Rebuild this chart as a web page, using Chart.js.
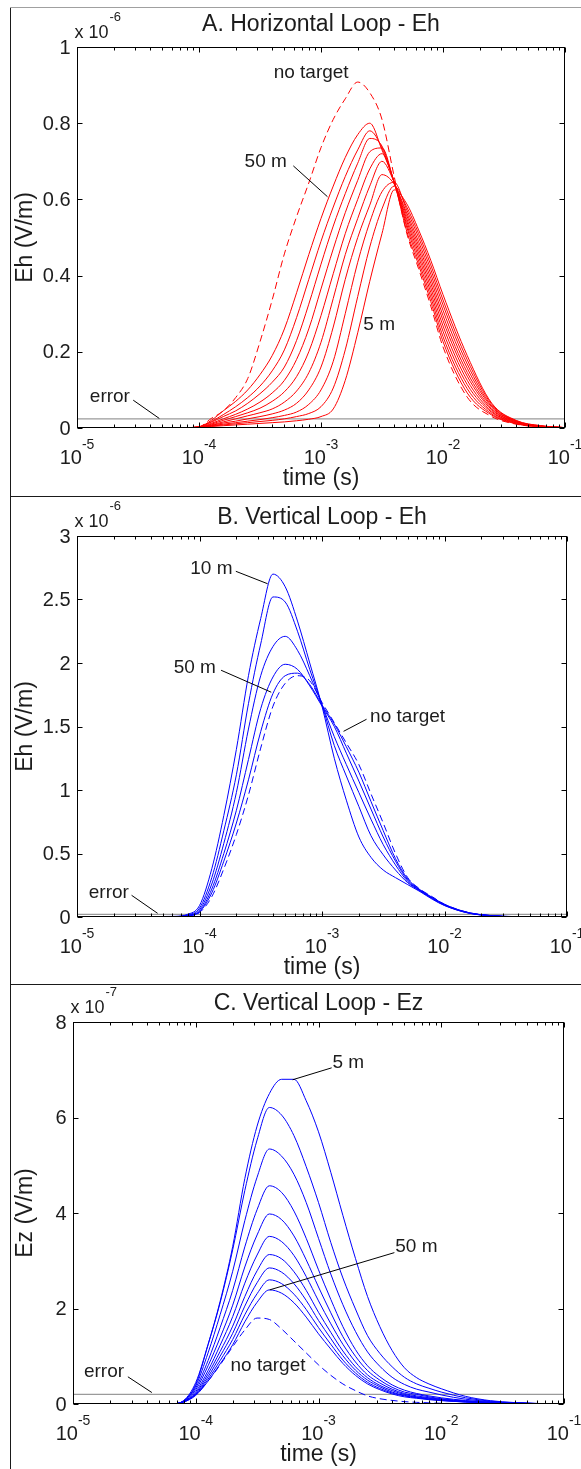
<!DOCTYPE html>
<html>
<head>
<meta charset="utf-8">
<title>Loop responses</title>
<script src="https://cdn.jsdelivr.net/npm/chart.js@4.4.1/dist/chart.umd.min.js"></script>
<style>
  html, body { margin: 0; padding: 0; background: #fff; }
  #fig { position: relative; width: 581px; height: 1469px; overflow: hidden; background: #fff; }
  #fig canvas { position: absolute; left: 0; }
  .rule { position: absolute; background: #1a1a1a; }
</style>
</head>
<body>
<div id="fig">
  <canvas id="panelA" width="581" height="496" style="top:0px"></canvas>
  <canvas id="panelB" width="581" height="488" style="top:496px"></canvas>
  <canvas id="panelC" width="581" height="485" style="top:984px"></canvas>
  <div class="rule" style="left:10px; top:7px; width:1px; height:1462px"></div>
  <div class="rule" style="left:10px; top:7px; width:571px; height:1px; background:#a0a0a0"></div>
  <div class="rule" style="left:10px; top:496px; width:571px; height:1px"></div>
  <div class="rule" style="left:10px; top:984px; width:571px; height:1px"></div>
</div>
<script>
// sample times (s), shared by every curve
const time = [1e-5, 6.31e-5, 7.94e-5, 1e-4, 1.26e-4, 1.58e-4, 2.0e-4, 2.51e-4, 3.16e-4, 3.98e-4,
  5.01e-4, 6.31e-4, 7.94e-4, 1e-3, 1.26e-3, 1.58e-3, 2.0e-3, 2.51e-3, 3.16e-3, 3.98e-3,
  5.01e-3, 6.31e-3, 7.94e-3, 1e-2, 1.58e-2, 2.51e-2, 3.98e-2, 6.31e-2, 1e-1];

// A. Horizontal loop - Eh  (x 1e-6 V/m)
const aNoTarget = [0, 0, 0.001, 0.003, 0.025, 0.045, 0.08, 0.13, 0.226, 0.336, 0.457, 0.555, 0.643, 0.736, 0.81, 0.864, 0.908, 0.88, 0.81, 0.66, 0.515, 0.418, 0.32, 0.213, 0.081, 0.03, 0.01, 0.003, 0];
const a50 = [0, 0, 0.001, 0.003, 0.02, 0.045, 0.07, 0.1, 0.14, 0.19, 0.26, 0.355, 0.455, 0.55, 0.635, 0.71, 0.77, 0.8, 0.73, 0.645, 0.52, 0.428, 0.332, 0.227, 0.092, 0.034, 0.011, 0.003, 0.001];
const a45 = [0, 0, 0.001, 0.003, 0.017, 0.035, 0.056, 0.08, 0.11, 0.15, 0.205, 0.29, 0.39, 0.49, 0.58, 0.66, 0.73, 0.78, 0.735, 0.645, 0.53, 0.438, 0.344, 0.24, 0.103, 0.037, 0.012, 0.003, 0.001];
const a40 = [0, 0, 0.001, 0.003, 0.015, 0.03, 0.045, 0.065, 0.09, 0.12, 0.16, 0.23, 0.325, 0.43, 0.53, 0.615, 0.695, 0.76, 0.74, 0.645, 0.537, 0.449, 0.356, 0.254, 0.114, 0.041, 0.013, 0.004, 0.001];
const a35 = [0, 0, 0.001, 0.002, 0.012, 0.024, 0.036, 0.05, 0.068, 0.092, 0.125, 0.18, 0.26, 0.365, 0.47, 0.565, 0.65, 0.725, 0.735, 0.645, 0.545, 0.459, 0.368, 0.268, 0.125, 0.044, 0.014, 0.004, 0.001];
const a30 = [0, 0, 0.001, 0.002, 0.01, 0.02, 0.03, 0.04, 0.052, 0.07, 0.095, 0.135, 0.2, 0.295, 0.405, 0.51, 0.6, 0.68, 0.72, 0.645, 0.552, 0.469, 0.38, 0.282, 0.136, 0.048, 0.015, 0.004, 0.001];
const a25 = [0, 0, 0.001, 0.002, 0.008, 0.016, 0.024, 0.032, 0.04, 0.05, 0.068, 0.097, 0.145, 0.225, 0.34, 0.455, 0.55, 0.635, 0.7, 0.645, 0.56, 0.479, 0.392, 0.295, 0.146, 0.051, 0.016, 0.005, 0.001];
const a20 = [0, 0, 0.001, 0.002, 0.007, 0.013, 0.018, 0.024, 0.03, 0.037, 0.047, 0.065, 0.1, 0.16, 0.265, 0.39, 0.5, 0.585, 0.665, 0.64, 0.567, 0.489, 0.404, 0.309, 0.157, 0.055, 0.017, 0.005, 0.001];
const a15 = [0, 0, 0.001, 0.002, 0.006, 0.01, 0.014, 0.018, 0.022, 0.027, 0.033, 0.042, 0.062, 0.1, 0.175, 0.3, 0.435, 0.54, 0.62, 0.645, 0.575, 0.5, 0.416, 0.323, 0.168, 0.058, 0.018, 0.005, 0.001];
const a10 = [0, 0, 0, 0.001, 0.005, 0.008, 0.011, 0.014, 0.017, 0.02, 0.024, 0.03, 0.038, 0.056, 0.105, 0.205, 0.345, 0.475, 0.575, 0.635, 0.582, 0.51, 0.428, 0.336, 0.179, 0.062, 0.019, 0.006, 0.001];
const a5 = [0, 0, 0, 0.001, 0.004, 0.006, 0.008, 0.01, 0.012, 0.014, 0.016, 0.019, 0.023, 0.03, 0.05, 0.125, 0.25, 0.385, 0.51, 0.625, 0.59, 0.52, 0.44, 0.35, 0.19, 0.065, 0.02, 0.006, 0.001];
const errA = 0.024;

// B. Vertical loop - Eh  (x 1e-6 V/m)
const bNoTarget = [0, 0.002, 0.008, 0.035, 0.16, 0.38, 0.65, 0.96, 1.33, 1.66, 1.84, 1.9, 1.86, 1.69, 1.53, 1.37, 1.2, 0.97, 0.74, 0.5, 0.31, 0.22, 0.16, 0.1, 0.035, 0.01, 0.003, 0, 0];
const b10 = [0, 0.005, 0.02, 0.09, 0.38, 0.8, 1.32, 1.9, 2.35, 2.7, 2.6, 2.33, 2.0, 1.66, 1.25, 0.92, 0.63, 0.47, 0.37, 0.31, 0.255, 0.2, 0.14, 0.09, 0.03, 0.008, 0.002, 0, 0];
const b20 = [0, 0.004, 0.016, 0.07, 0.31, 0.68, 1.12, 1.68, 2.15, 2.52, 2.48, 2.25, 1.95, 1.67, 1.35, 1.11, 0.87, 0.64, 0.49, 0.37, 0.27, 0.205, 0.145, 0.092, 0.031, 0.008, 0.002, 0, 0];
const b30 = [0, 0.003, 0.013, 0.055, 0.26, 0.58, 0.98, 1.48, 1.9, 2.13, 2.21, 2.1, 1.9, 1.67, 1.42, 1.2, 0.98, 0.77, 0.57, 0.41, 0.28, 0.21, 0.15, 0.095, 0.032, 0.009, 0.002, 0, 0];
const b40 = [0, 0.003, 0.011, 0.045, 0.22, 0.5, 0.84, 1.24, 1.64, 1.89, 1.99, 1.95, 1.82, 1.66, 1.5, 1.29, 1.07, 0.85, 0.63, 0.44, 0.29, 0.21, 0.15, 0.097, 0.033, 0.009, 0.002, 0, 0];
const b50 = [0, 0.002, 0.01, 0.04, 0.19, 0.44, 0.74, 1.08, 1.46, 1.76, 1.9, 1.92, 1.83, 1.67, 1.52, 1.34, 1.14, 0.91, 0.68, 0.46, 0.3, 0.215, 0.155, 0.1, 0.034, 0.01, 0.002, 0, 0];
const errB = 0.02;

// C. Vertical loop - Ez  (x 1e-7 V/m)
const cNoTarget = [0, 0, 0.05, 0.2, 0.48, 0.82, 1.2, 1.55, 1.8, 1.77, 1.57, 1.32, 1.07, 0.82, 0.6, 0.42, 0.28, 0.17, 0.11, 0.075, 0.05, 0.035, 0.025, 0.015, 0.006, 0.002, 0.001, 0, 0];
const c5 = [0, 0, 0.07, 0.45, 1.25, 2.15, 3.3, 4.72, 5.82, 6.5, 6.8, 6.8, 6.35, 5.7, 4.85, 3.95, 3.05, 2.25, 1.62, 1.12, 0.76, 0.55, 0.42, 0.32, 0.16, 0.07, 0.03, 0.01, 0.003];
const c10 = [0, 0, 0.06, 0.41, 1.24, 2.12, 3.23, 4.47, 5.53, 6.21, 6.05, 5.62, 4.97, 4.22, 3.38, 2.64, 1.99, 1.43, 1.06, 0.78, 0.56, 0.42, 0.33, 0.25, 0.13, 0.06, 0.025, 0.01, 0.003];
const c15 = [0, 0, 0.06, 0.38, 1.07, 1.87, 2.78, 3.84, 4.75, 5.34, 5.19, 4.81, 4.22, 3.47, 2.72, 2.08, 1.52, 1.09, 0.79, 0.56, 0.41, 0.31, 0.25, 0.19, 0.1, 0.05, 0.02, 0.008, 0.002];
const c20 = [0, 0, 0.06, 0.34, 0.91, 1.6, 2.38, 3.29, 4.07, 4.57, 4.43, 4.04, 3.47, 2.81, 2.19, 1.62, 1.14, 0.8, 0.57, 0.4, 0.29, 0.22, 0.17, 0.13, 0.073, 0.041, 0.023, 0.009, 0.005];
const c25 = [0, 0, 0.05, 0.3, 0.8, 1.39, 2.07, 2.87, 3.54, 3.98, 3.86, 3.52, 3.02, 2.45, 1.91, 1.41, 1.0, 0.7, 0.5, 0.35, 0.25, 0.2, 0.15, 0.11, 0.064, 0.036, 0.02, 0.008, 0.004];
const c30 = [0, 0, 0.05, 0.26, 0.7, 1.23, 1.83, 2.53, 3.12, 3.51, 3.4, 3.11, 2.67, 2.16, 1.68, 1.25, 0.88, 0.61, 0.44, 0.31, 0.22, 0.17, 0.13, 0.1, 0.056, 0.032, 0.018, 0.007, 0.003];
const c35 = [0, 0, 0.05, 0.23, 0.63, 1.1, 1.63, 2.25, 2.79, 3.13, 3.04, 2.77, 2.38, 1.92, 1.5, 1.11, 0.78, 0.55, 0.39, 0.28, 0.2, 0.15, 0.12, 0.09, 0.05, 0.028, 0.016, 0.006, 0.003];
const c40 = [0, 0, 0.04, 0.21, 0.57, 1.0, 1.48, 2.05, 2.54, 2.85, 2.76, 2.52, 2.17, 1.75, 1.37, 1.01, 0.71, 0.5, 0.36, 0.25, 0.18, 0.14, 0.105, 0.08, 0.046, 0.026, 0.014, 0.006, 0.003];
const c45 = [0, 0, 0.04, 0.2, 0.52, 0.91, 1.35, 1.87, 2.31, 2.6, 2.52, 2.3, 1.98, 1.6, 1.25, 0.92, 0.65, 0.455, 0.325, 0.23, 0.17, 0.13, 0.1, 0.075, 0.042, 0.023, 0.013, 0.006, 0.003];
const c50 = [0, 0, 0.04, 0.18, 0.48, 0.84, 1.24, 1.72, 2.13, 2.39, 2.32, 2.12, 1.82, 1.47, 1.15, 0.85, 0.6, 0.42, 0.3, 0.21, 0.15, 0.12, 0.09, 0.07, 0.04, 0.02, 0.01, 0.005, 0.002];
const errC = 0.2;

// axis ticks
const xMajor = [1e-5, 1e-4, 1e-3, 1e-2, 1e-1];
const xExp = ['-5', '-4', '-3', '-2', '-1'];
const yTicksA = [0, 0.2, 0.4, 0.6, 0.8, 1];
const yLabelsA = ['0', '0.2', '0.4', '0.6', '0.8', '1'];
const yTicksB = [0, 0.5, 1, 1.5, 2, 2.5, 3];
const yLabelsB = ['0', '0.5', '1', '1.5', '2', '2.5', '3'];
const yTicksC = [0, 2, 4, 6, 8];
const yLabelsC = ['0', '2', '4', '6', '8'];

const FONT = '"Liberation Sans", Arial, Helvetica, sans-serif';
const INK = '#1c1c1c';
const RED = '#ff0000';
const BLUE = '#0000ff';

// minor ticks 2..9 in every decade, powers of ten are major
function logTicks() {
  const out = [];
  for (let e = -5; e <= -1; e++) {
    for (let m = 1; m <= 9; m++) {
      if (e === -1 && m > 1) break;
      out.push({ value: m * Math.pow(10, e), major: m === 1 });
    }
  }
  return out;
}

function curve(values, color, dashed) {
  return {
    data: time.map((t, i) => ({ x: t, y: values[i] })),
    borderColor: color,
    borderWidth: 1,
    borderDash: dashed ? [7, 4] : [],
    pointRadius: 0,
    cubicInterpolationMode: 'monotone',
    fill: false
  };
}

function errorLine(level) {
  return {
    data: [{ x: 1e-5, y: level }, { x: 1e-1, y: level }],
    borderColor: '#9a9a9a',
    borderWidth: 1.3,
    pointRadius: 0,
    fill: false
  };
}

// box, inward ticks, labels and callouts (MATLAB look)
const decor = {
  id: 'decor',
  afterDraw(chart, args, o) {
    const { ctx, chartArea: a, scales: { x, y } } = chart;
    const L = Math.round(a.left) + 0.5, R = Math.round(a.right) - 0.5;
    const T = Math.round(a.top) + 0.5, B = Math.round(a.bottom) - 0.5;
    ctx.save();
    ctx.strokeStyle = '#000';
    ctx.lineWidth = 1;
    ctx.strokeRect(L, T, R - L, B - T);

    ctx.beginPath();
    x.ticks.forEach(t => {
      const px = Math.round(x.getPixelForValue(t.value)) + 0.5;
      const len = t.major ? 5 : 3;
      ctx.moveTo(px, B); ctx.lineTo(px, B - len);
      ctx.moveTo(px, T); ctx.lineTo(px, T + len);
    });
    y.ticks.forEach(t => {
      const py = Math.round(y.getPixelForValue(t.value)) + 0.5;
      ctx.moveTo(L, py); ctx.lineTo(L + 5, py);
      ctx.moveTo(R, py); ctx.lineTo(R - 5, py);
    });
    ctx.stroke();

    ctx.fillStyle = INK;
    ctx.textBaseline = 'middle';

    // y tick labels
    ctx.font = '20px ' + FONT;
    ctx.textAlign = 'right';
    y.ticks.forEach((t, i) => ctx.fillText(o.yLabels[i], L - 7, y.getPixelForValue(t.value) + 1));

    // x tick labels: 10 with raised exponent
    ctx.textAlign = 'left';
    xMajor.forEach((v, i) => {
      const px = x.getPixelForValue(v);
      ctx.font = '20px ' + FONT;
      const w1 = ctx.measureText('10').width;
      ctx.font = '14px ' + FONT;
      const w2 = ctx.measureText(xExp[i]).width;
      const x0 = px - (w1 + w2) / 2;
      ctx.font = '20px ' + FONT;
      ctx.fillText('10', x0, B + 31);
      ctx.font = '14px ' + FONT;
      ctx.fillText(xExp[i], x0 + w1, B + 18);
    });

    // scale multiplier above the y axis
    ctx.font = '18px ' + FONT;
    const wm = ctx.measureText('x 10').width;
    ctx.fillText('x 10', L - 3, T - 14);
    ctx.font = '13px ' + FONT;
    ctx.fillText(o.mult, L - 3 + wm + 1, T - 30);

    // titles
    const cx = (L + R) / 2;
    ctx.textAlign = 'center';
    ctx.font = '23px ' + FONT;
    ctx.fillText(o.title, cx, T + o.titleDy);
    ctx.fillText('time (s)', cx, B + 51);
    ctx.save();
    ctx.translate(26, (T + B) / 2);
    ctx.rotate(-Math.PI / 2);
    ctx.fillText(o.yTitle, 0, 0);
    ctx.restore();

    // callouts
    ctx.font = '19px ' + FONT;
    ctx.strokeStyle = '#000';
    o.notes.forEach(n => {
      ctx.fillText(n.text, x.getPixelForValue(n.at[0]), y.getPixelForValue(n.at[1]));
      if (n.from) {
        ctx.beginPath();
        ctx.moveTo(x.getPixelForValue(n.from[0]), y.getPixelForValue(n.from[1]));
        ctx.lineTo(x.getPixelForValue(n.to[0]), y.getPixelForValue(n.to[1]));
        ctx.stroke();
      }
    });
    ctx.restore();
  }
};

function scalesFor(yTicks, yMax) {
  return {
    x: {
      type: 'logarithmic', min: 1e-5, max: 1e-1,
      ticks: { display: false }, grid: { display: false }, border: { display: false },
      afterBuildTicks: s => { s.ticks = logTicks(); },
      afterFit: s => { s.height = 0; }
    },
    y: {
      type: 'linear', min: 0, max: yMax,
      ticks: { display: false }, grid: { display: false }, border: { display: false },
      afterBuildTicks: s => { s.ticks = yTicks.map(v => ({ value: v })); },
      afterFit: s => { s.width = 0; }
    }
  };
}

function panel(id, cfg) {
  new Chart(document.getElementById(id), {
    type: 'line',
    data: { datasets: cfg.datasets },
    options: {
      responsive: false,
      animation: false,
      devicePixelRatio: 1,
      events: [],
      layout: { padding: cfg.pad },
      scales: scalesFor(cfg.yTicks, cfg.yMax),
      plugins: {
        legend: { display: false },
        tooltip: { enabled: false },
        decor: cfg.decor
      }
    },
    plugins: [decor]
  });
}

panel('panelA', {
  pad: { left: 77, right: 16, top: 47, bottom: 68 },
  yTicks: yTicksA, yMax: 1,
  datasets: [
    curve(aNoTarget, RED, true),
    curve(a50, RED), curve(a45, RED), curve(a40, RED), curve(a35, RED), curve(a30, RED),
    curve(a25, RED), curve(a20, RED), curve(a15, RED), curve(a10, RED), curve(a5, RED),
    errorLine(errA)
  ],
  decor: {
    title: 'A. Horizontal Loop - Eh', titleDy: -23, yTitle: 'Eh (V/m)', mult: '-6', yLabels: yLabelsA,
    notes: [
      { text: 'no target', at: [8.3e-4, 0.933] },
      { text: '50 m', at: [3.52e-4, 0.70], from: [5.93e-4, 0.688], to: [1.13e-3, 0.607] },
      { text: '5 m', at: [3.0e-3, 0.27] },
      { text: 'error', at: [1.86e-5, 0.081], from: [2.89e-5, 0.073], to: [4.73e-5, 0.025] }
    ]
  }
});

panel('panelB', {
  pad: { left: 77, right: 14, top: 40, bottom: 67 },
  yTicks: yTicksB, yMax: 3,
  datasets: [
    curve(bNoTarget, BLUE, true),
    curve(b10, BLUE), curve(b20, BLUE), curve(b30, BLUE), curve(b40, BLUE), curve(b50, BLUE),
    errorLine(errB)
  ],
  decor: {
    title: 'B. Vertical Loop - Eh', titleDy: -19, yTitle: 'Eh (V/m)', mult: '-6', yLabels: yLabelsB,
    notes: [
      { text: '10 m', at: [1.25e-4, 2.74], from: [1.98e-4, 2.722], to: [3.6e-4, 2.624] },
      { text: '50 m', at: [9.15e-5, 1.966], from: [1.5e-4, 1.943], to: [3.85e-4, 1.77] },
      { text: 'no target', at: [5.0e-3, 1.573], from: [2.31e-3, 1.557], to: [1.5e-3, 1.462] },
      { text: 'error', at: [1.82e-5, 0.194], from: [2.79e-5, 0.171], to: [4.55e-5, 0.029] }
    ]
  }
});

panel('panelC', {
  pad: { left: 73, right: 17, top: 38, bottom: 65 },
  yTicks: yTicksC, yMax: 8,
  datasets: [
    curve(cNoTarget, BLUE, true),
    curve(c5, BLUE), curve(c10, BLUE), curve(c15, BLUE), curve(c20, BLUE), curve(c25, BLUE),
    curve(c30, BLUE), curve(c35, BLUE), curve(c40, BLUE), curve(c45, BLUE), curve(c50, BLUE),
    errorLine(errC)
  ],
  decor: {
    title: 'C. Vertical Loop - Ez', titleDy: -19, yTitle: 'Ez (V/m)', mult: '-7', yLabels: yLabelsC,
    notes: [
      { text: '5 m', at: [1.75e-3, 7.15], from: [1.28e-3, 7.04], to: [6.15e-4, 6.79] },
      { text: '50 m', at: [6.27e-3, 3.30], from: [4.15e-3, 3.17], to: [4.0e-4, 2.39] },
      { text: 'no target', at: [3.88e-4, 0.80] },
      { text: 'error', at: [1.79e-5, 0.68], from: [2.8e-5, 0.57], to: [4.39e-5, 0.24] }
    ]
  }
});
</script>
</body>
</html>
